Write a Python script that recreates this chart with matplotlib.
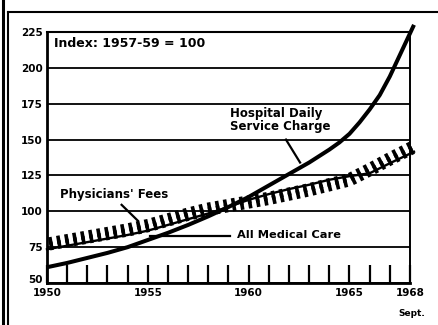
import matplotlib
matplotlib.use('Agg')
import matplotlib.pyplot as plt
import matplotlib.patheffects as pe
from matplotlib.lines import Line2D
from matplotlib.transforms import ScaledTranslation

# Price indexes, 1957-59 = 100 (last point is Sept. 1968)
years = [1950, 1951, 1952, 1953, 1954, 1955, 1956, 1957, 1958, 1959,
         1960, 1961, 1962, 1963, 1964, 1965, 1966, 1967, 1968.2]
physicians = [77, 79.5, 82, 84.5, 87, 90, 94, 98, 101.5, 104,
              106.5, 109, 112, 115, 118.5, 122, 129, 136.5, 145]
all_medical = [73.5, 76, 78.5, 81, 83.5, 86.5, 90.5, 94.5, 98.5, 103,
               108, 112, 115.5, 118.5, 122, 124.5, 126.5, 133.5, 141.5]

# hospital charge, read at half-year steps where the curve turns up
hosp_years = [1950, 1951, 1952, 1953, 1954, 1955, 1956, 1957, 1958, 1959,
              1960, 1961, 1962, 1963, 1964, 1964.5, 1965, 1965.5, 1966,
              1966.5, 1967, 1967.5, 1968.2]
hospital = [61, 64, 67.5, 71, 75, 80, 85, 90.5, 96.5, 103,
            110, 118, 126, 134, 143, 148, 154, 162, 171,
            181, 194, 209, 230]

y_ticks = [50, 75, 100, 125, 150, 175, 200, 225]
x_ticks = list(range(1950, 1969))
x_labeled = [1950, 1955, 1960, 1965, 1968]

font = dict(family='DejaVu Sans', fontweight='bold')

fig = plt.figure(figsize=(4.38, 3.25), dpi=100)
ax = fig.add_axes([0.1073, 0.1292, 0.8287, 0.7723])

ax.set_xlim(1950, 1968)
ax.set_ylim(50, 225)

# all medical care: plain line under the hatched physicians' fees
ax.plot(years, all_medical, color='black', lw=1.7, clip_on=False, zorder=3)

# physicians' fees: a ladder of short ticks centred on the values
ticks = [pe.TickedStroke(spacing=5.8, angle=90, length=0.6, linewidth=2.6),
         pe.TickedStroke(spacing=5.8, angle=-90, length=0.6, linewidth=2.6)]
ax.plot(years, physicians, color='black', lw=2.2, clip_on=False, zorder=3,
        path_effects=ticks)

ax.plot(hosp_years, hospital, color='black', lw=2.9, clip_on=False,
        zorder=4, solid_capstyle='butt', solid_joinstyle='round')

# axes styling
ax.set_yticks(y_ticks)
ax.set_yticklabels([str(v) for v in y_ticks], fontsize=7.5, **font)
ax.set_xticks(x_ticks)
ax.set_xticklabels([str(y) if y in x_labeled else '' for y in x_ticks],
                   fontsize=7.5, **font)
ax.tick_params(axis='y', length=0, pad=3)
ax.tick_params(axis='x', direction='in', length=13, width=1.6, pad=3.5)
ax.grid(axis='y', color='black', lw=1.3)
ax.set_axisbelow(True)
for side, lw in [('left', 2.0), ('bottom', 2.0), ('top', 1.5), ('right', 1.4)]:
    ax.spines[side].set_linewidth(lw)

# lift the bottom "50" clear of the year labels
lab50 = ax.get_yticklabels()[0]
lab50.set_transform(lab50.get_transform()
                    + ScaledTranslation(0, 3 / 72, fig.dpi_scale_trans))

ax.text(1968.1, -0.12, 'Sept.', transform=ax.get_xaxis_transform(),
        ha='center', va='center', fontsize=6.5, **font)

# labels and leaders
ax.text(1950.35, 217, 'Index: 1957-59 = 100', ha='left', va='center',
        fontsize=9, **font)
ax.text(1950.65, 112, "Physicians' Fees", ha='left', va='center',
        fontsize=8.5, **font)
ax.plot([1953.7, 1954.5], [104.5, 93.5], color='black', lw=1.6)
ax.text(1959.1, 163.5, 'Hospital Daily\nService Charge', ha='left',
        va='center', fontsize=8.5, linespacing=1.0, **font)
ax.plot([1961.85, 1962.55], [150, 134], color='black', lw=1.6)
ax.plot([1955.1, 1959.1], [83, 83], color='black', lw=1.6)
ax.text(1959.4, 83.5, 'All Medical Care', ha='left', va='center',
        fontsize=8.2, **font)

# page frame
top = 1 - 12 / 325
fig.add_artist(Line2D([8 / 438, 1], [top, top], color='black', lw=1.5,
                      transform=fig.transFigure))
fig.add_artist(Line2D([8 / 438, 8 / 438], [0, top], color='black', lw=1.5,
                      transform=fig.transFigure))
fig.add_artist(Line2D([3 / 438, 3 / 438], [0, 1], color='black', lw=2.2,
                      transform=fig.transFigure))

fig.savefig('out.png', dpi=100)
